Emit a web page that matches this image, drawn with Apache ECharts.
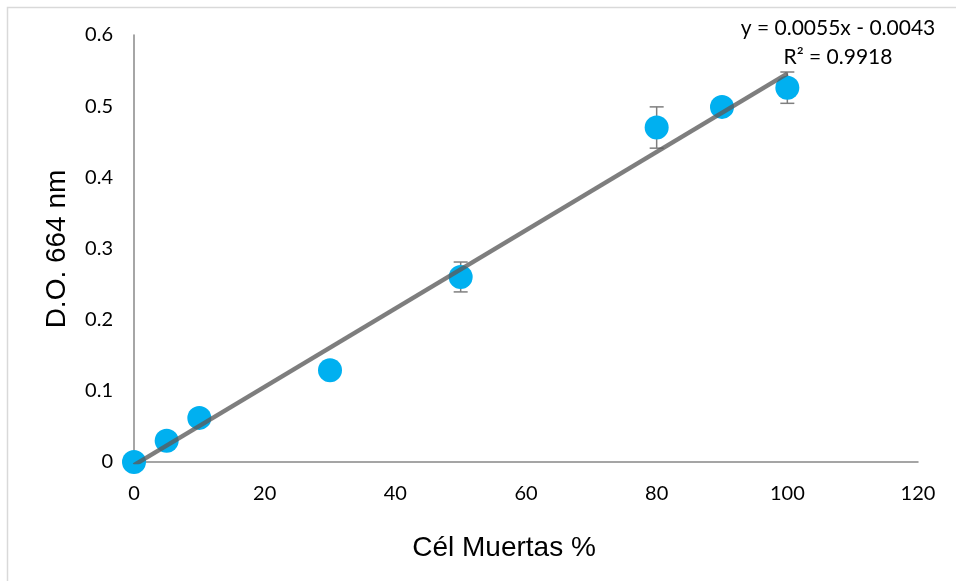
<!DOCTYPE html>
<html>
<head>
<meta charset="utf-8">
<script src="https://cdn.jsdelivr.net/npm/echarts@6/dist/echarts.min.js"></script>
<style>
  html, body { margin: 0; padding: 0; background: #fff; }
  #chart { width: 956px; height: 581px; }
</style>
</head>
<body>
<div id="chart"></div>
<script>
// Dead cells (%) vs optical density at 664 nm
const deadCells = [0, 5, 10, 30, 50, 80, 90, 100];
const absorbance = [0, 0.03, 0.062, 0.129, 0.26, 0.47, 0.499, 0.526];
const stdDev = [0, 0.003, 0.004, 0.012, 0.021, 0.029, 0.005, 0.022];

// Linear fit reported on the chart
const slope = 0.0055;
const intercept = -0.0043;
const rSquared = 0.9918;
const fitRange = [0, 100];

const xTicks = [0, 20, 40, 60, 80, 100, 120];
const yTicks = [0, 0.1, 0.2, 0.3, 0.4, 0.5, 0.6];

const points = deadCells.map((x, i) => [x, absorbance[i]]);
const bars = deadCells.map((x, i) => [x, absorbance[i] - stdDev[i], absorbance[i] + stdDev[i]]);
const fitLine = fitRange.map(x => [x, slope * x + intercept]);

const fmt = v => v.toFixed(4);
const eqText = 'y = ' + fmt(slope) + 'x ' + (intercept < 0 ? '- ' : '+ ') + fmt(Math.abs(intercept));
const r2Text = 'R² = ' + fmt(rSquared);

const chart = echarts.init(document.getElementById('chart'));
chart.setOption({
  animation: false,
  backgroundColor: '#fff',
  grid: { left: 134, right: 38, top: 35, bottom: 119 },
  xAxis: {
    type: 'value',
    min: xTicks[0], max: xTicks[xTicks.length - 1], interval: 20,
    axisLine: { show: true, onZero: false, lineStyle: { color: '#888', width: 1.5 } },
    axisTick: { show: false },
    splitLine: { show: false },
    axisLabel: { color: '#000', fontFamily: 'Lato', fontSize: 20, margin: 22 }
  },
  yAxis: {
    type: 'value',
    min: yTicks[0], max: yTicks[yTicks.length - 1], interval: 0.1,
    axisLine: { show: true, onZero: false, lineStyle: { color: '#888', width: 1.5 } },
    axisTick: { show: false },
    splitLine: { show: false },
    axisLabel: { color: '#000', fontFamily: 'Lato', fontSize: 20, margin: 21,
      formatter: v => String(+v.toFixed(1)) }
  },
  graphic: [
    { type: 'rect', silent: true, z: -10,
      shape: { x: 7.5, y: 7.5, width: 960, height: 600 },
      style: { fill: 'none', stroke: '#d9d9d9', lineWidth: 1.5 } },
    { type: 'text', x: 57, y: 249, rotation: Math.PI / 2,
      style: { text: 'D.O. 664 nm', fontFamily: 'Liberation Sans', fontSize: 28,
        fill: '#000', align: 'center', verticalAlign: 'middle' } },
    { type: 'text', x: 504, y: 548,
      style: { text: 'Cél Muertas %', fontFamily: 'Liberation Sans', fontSize: 28,
        fill: '#000', align: 'center', verticalAlign: 'middle' } },
    { type: 'text', x: 838, y: 28,
      style: { text: eqText, fontFamily: 'Lato', fontSize: 21,
        fill: '#000', align: 'center', verticalAlign: 'middle' } },
    { type: 'text', x: 838, y: 57,
      style: { text: r2Text, fontFamily: 'Lato', fontSize: 21,
        fill: '#000', align: 'center', verticalAlign: 'middle' } }
  ],
  series: [
    {
      type: 'custom',
      z: 2,
      data: bars,
      renderItem: (params, api) => {
        const x = api.value(0);
        const lo = api.coord([x, api.value(1)]);
        const hi = api.coord([x, api.value(2)]);
        const cap = 7;
        const style = { stroke: '#7f7f7f', lineWidth: 1.5 };
        return {
          type: 'group',
          children: [
            { type: 'line', shape: { x1: lo[0], y1: lo[1], x2: hi[0], y2: hi[1] }, style },
            { type: 'line', shape: { x1: lo[0] - cap, y1: lo[1], x2: lo[0] + cap, y2: lo[1] }, style },
            { type: 'line', shape: { x1: hi[0] - cap, y1: hi[1], x2: hi[0] + cap, y2: hi[1] }, style }
          ]
        };
      }
    },
    {
      type: 'scatter',
      z: 3,
      data: points,
      symbol: 'circle',
      symbolSize: 24,
      itemStyle: { color: '#00b0f0', opacity: 1 }
    },
    {
      type: 'line',
      z: 4,
      data: fitLine,
      symbol: 'none',
      lineStyle: { color: 'rgba(90,90,90,0.78)', width: 4.5 }
    }
  ]
});
</script>
</body>
</html>
